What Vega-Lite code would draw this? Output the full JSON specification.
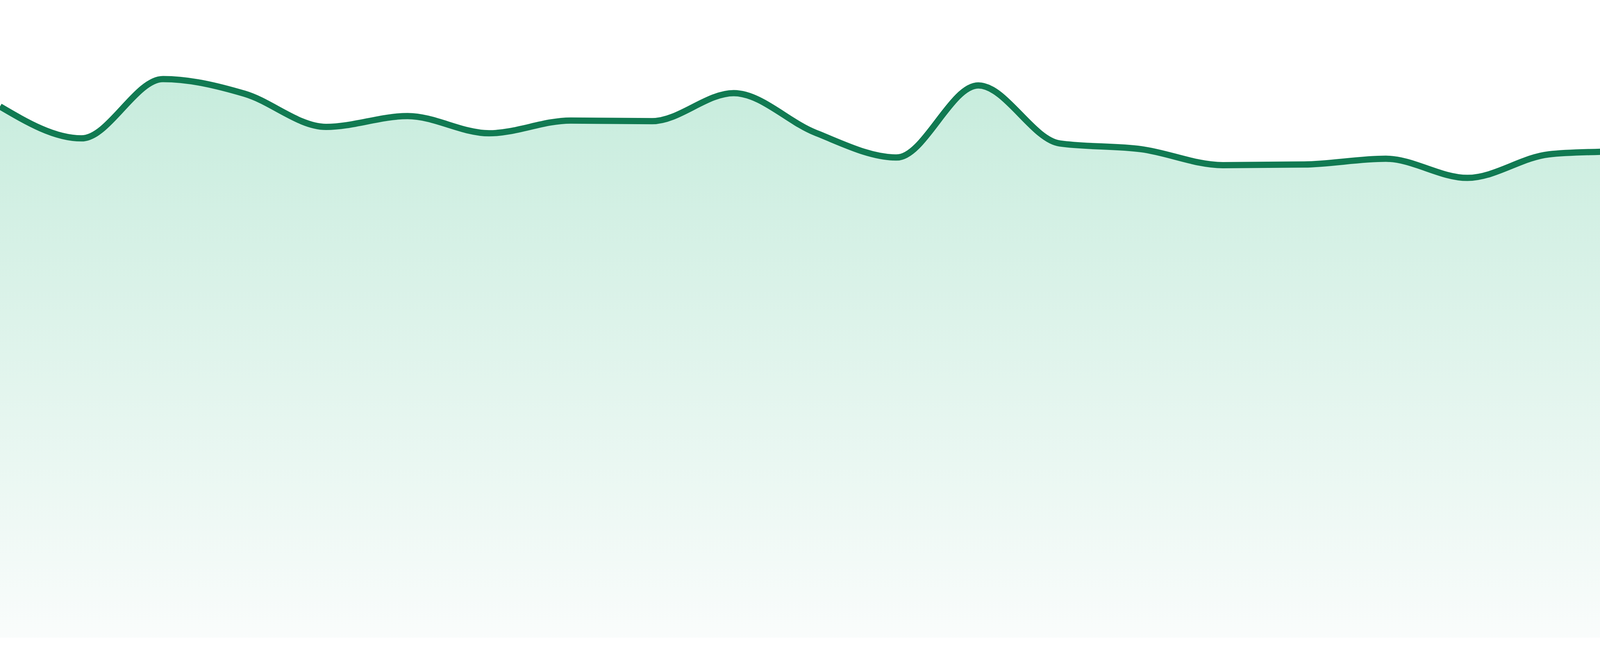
{
  "$schema": "https://vega.github.io/schema/vega-lite/v6.json",
  "width": 4800,
  "height": 1633,
  "autosize": "none",
  "padding": 0,
  "background": "#ffffff",
  "config": {"view": {"stroke": null}},
  "data": {
    "values": [
      {"i": 0, "v": 83.3},
      {"i": 1, "v": 78.3},
      {"i": 2, "v": 87.6},
      {"i": 3, "v": 85.3},
      {"i": 4, "v": 80.1},
      {"i": 5, "v": 81.8},
      {"i": 6, "v": 79.1},
      {"i": 7, "v": 81.1},
      {"i": 8, "v": 81.0},
      {"i": 9, "v": 85.4},
      {"i": 10, "v": 79.2},
      {"i": 11, "v": 75.3},
      {"i": 12, "v": 86.6},
      {"i": 13, "v": 77.5},
      {"i": 14, "v": 76.6},
      {"i": 15, "v": 74.1},
      {"i": 16, "v": 74.2},
      {"i": 17, "v": 75.1},
      {"i": 18, "v": 72.1},
      {"i": 19, "v": 75.8},
      {"i": 20, "v": 76.5},
      {"i": 21, "v": 79.3},
      {"i": 22, "v": 72.7},
      {"i": 23, "v": 68.6}
    ]
  },
  "mark": {
    "type": "area",
    "interpolate": "monotone",
    "color": {
      "gradient": "linear",
      "x1": 0, "y1": 0, "x2": 0, "y2": 1,
      "stops": [
        {"offset": 0, "color": "#afe4ce"},
        {"offset": 1, "color": "#f7fbfa"}
      ]
    },
    "line": {"color": "#117a52", "strokeWidth": 16}
  },
  "encoding": {
    "x": {
      "field": "i", "type": "quantitative",
      "scale": {"domain": [0, 23], "nice": false, "zero": false},
      "axis": null
    },
    "y": {
      "field": "v", "type": "quantitative",
      "scale": {"domain": [0, 100], "nice": false},
      "axis": null
    }
  }
}
